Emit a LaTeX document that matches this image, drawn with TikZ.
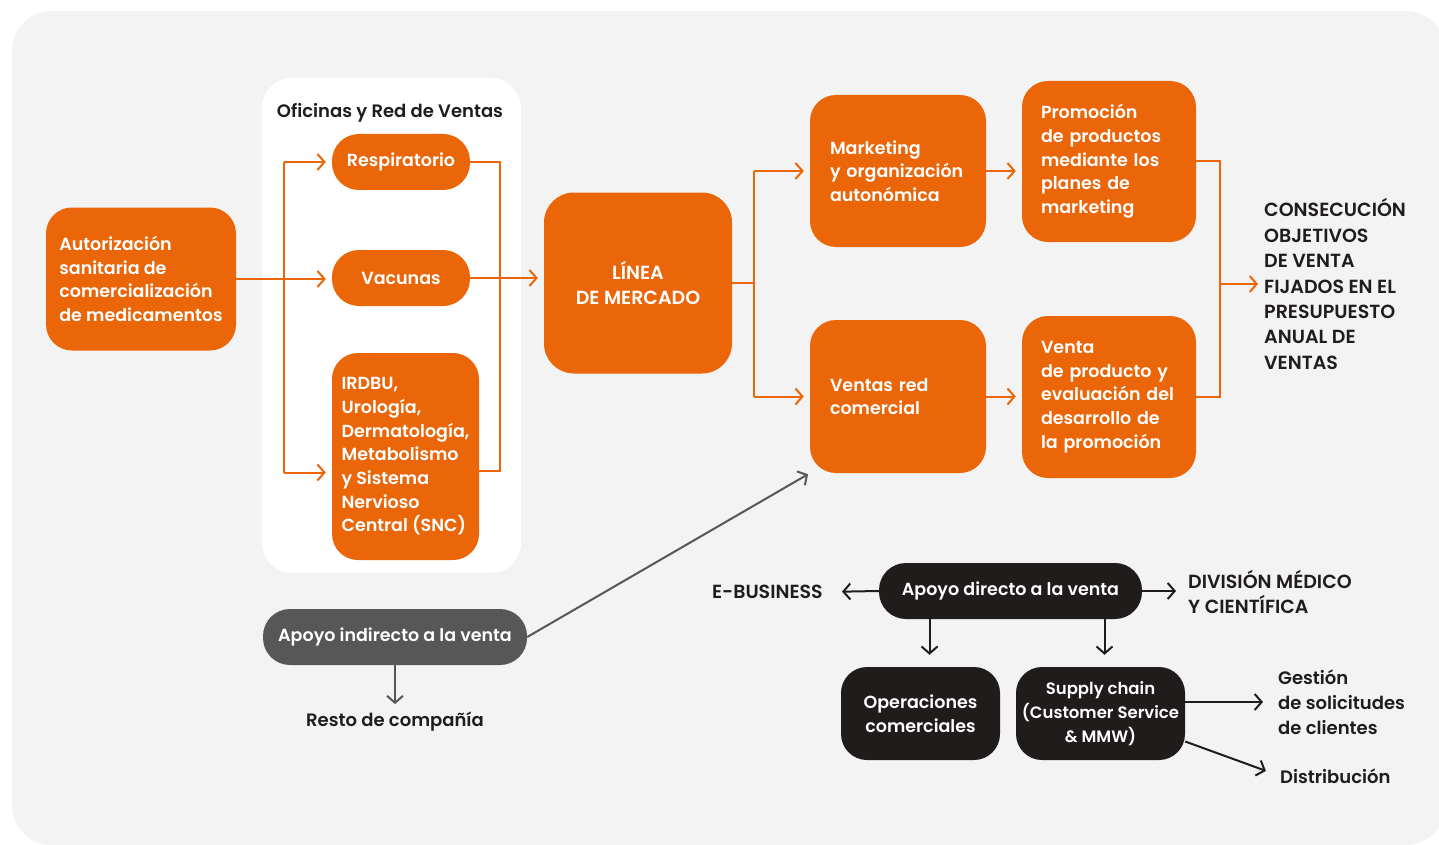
\documentclass[tikz,border=0pt]{standalone}
\usepackage{fontspec}
\setmainfont{Poppins}[UprightFont=* Medium, BoldFont=* SemiBold]
\usetikzlibrary{arrows.meta,positioning}
\definecolor{orangeC}{HTML}{EA6609}
\definecolor{panelC}{HTML}{F3F3F3}
\definecolor{inkC}{HTML}{201C1C}
\definecolor{greyC}{HTML}{575757}
\tikzset{
  box/.style={fill=orangeC, text=white, rounded corners=26pt, align=left, inner sep=0pt,
    font=\fontsize{17.5}{23.7}\selectfont\bfseries},
  pill/.style={box, rounded corners=27pt, minimum height=56pt},
  blackbox/.style={box, fill=inkC, align=center},
  caption/.style={text=inkC, align=left, inner sep=0pt, font=\fontsize{18}{25}\selectfont\bfseries},
  capsline/.style={caption, font=\fontsize{19}{25.4}\selectfont\bfseries},
  wire/.style={draw=orangeC, line width=2pt},
  link/.style={wire, -{Straight Barb[length=7pt,width=16pt]}, shorten >=6pt},
  darklink/.style={link, draw=inkC},
  greylink/.style={link, draw=greyC},
}
\begin{document}
\begin{tikzpicture}[x=1pt, y=-1pt]
  \useasboundingbox (0,0) rectangle (1439,845);
  \fill[panelC, rounded corners=40pt] (12,11) rectangle (1446,845);
  \fill[white, rounded corners=30pt] (262,78) rectangle (521,573);

  \node[caption] (oficinas) at (390,113) {Oficinas y Red de Ventas};
  \node[box, minimum width=190pt, minimum height=143pt] (auth) at (141,279)
    {Autorización\\sanitaria de\\comercialización\\de medicamentos};
  \node[pill, minimum width=138pt] (resp) at (401,162) {Respiratorio};
  \node[pill, minimum width=138pt] (vac) at (401,278) {Vacunas};
  \node[box, minimum width=147pt, minimum height=207pt] (irdbu) at (405.5,456.5)
    {IRDBU,\\Urología,\\Dermatología,\\Metabolismo\\y Sistema\\Nervioso\\Central (SNC)};
  \node[box, align=center, rounded corners=30pt, minimum width=188pt, minimum height=181pt,
    font=\fontsize{19}{25}\selectfont\bfseries] (linea) at (638,283) {LÍNEA\\DE MERCADO};
  \node[box, text width=136pt, minimum width=176pt, minimum height=152pt] (mkt) at (898,171)
    {Marketing\\y organización\\autonómica};
  \node[box, text width=136pt, minimum width=174pt, minimum height=161pt] (promo) at (1109,161.5)
    {Promoción\\de productos\\mediante los\\planes de\\marketing};
  \node[box, text width=136pt, minimum width=176pt, minimum height=153pt] (ventas) at (898,396.5)
    {Ventas red\\comercial};
  \node[box, text width=136pt, minimum width=174pt, minimum height=162pt] (venta) at (1109,397)
    {Venta\\de producto y\\evaluación del\\desarrollo de\\la promoción};
  \node[capsline, anchor=west] (consec) at (1264,284)
    {CONSECUCIÓN\\OBJETIVOS\\DE VENTA\\FIJADOS EN EL\\PRESUPUESTO\\ANUAL DE\\VENTAS};

  \node[pill, fill=inkC, minimum width=263pt] (directo) at (1010.5,591) {Apoyo directo a la venta};
  \node[capsline, anchor=east] (ebiz) at (823,592) {E-BUSINESS};
  \node[capsline, anchor=west] (division) at (1188,592) {DIVISIÓN MÉDICO\\Y CIENTÍFICA};
  \node[blackbox, minimum width=159pt, minimum height=93pt] (oper) at (920.5,713.5)
    {Operaciones\\comerciales};
  \node[blackbox, minimum width=169pt, minimum height=93pt,
    font=\fontsize{16.5}{23.7}\selectfont\bfseries] (supply) at (1100.5,713.5)
    {Supply chain\\(Customer Service\\\& MMW)};
  \node[caption, anchor=west] (gestion) at (1278,702) {Gestión\\de solicitudes\\de clientes};
  \node[caption, anchor=west] (distrib) at (1280,776) {Distribución};
  \node[pill, fill=greyC, minimum width=264pt] (indirecto) at (395,637) {Apoyo indirecto a la venta};
  \node[caption] (resto) at (395,722) {Resto de compañía};

  \coordinate (busL) at (284,0);
  \coordinate (busR) at (500,0);
  \coordinate (busM) at (754,0);
  \coordinate (busE) at (1220,0);
  \coordinate (irdbuin) at ([yshift=-16pt]irdbu.west);
  \coordinate (irdbuout) at ([yshift=-14pt]irdbu.east);

  \draw[link] (auth.east) -- (auth.east -| vac.west);
  \draw[wire] (busL |- resp) -- (busL |- irdbuin);
  \draw[link] (busL |- resp) -- (resp.west);
  \draw[link] (busL |- irdbuin) -- (irdbuin);
  \draw[wire] (resp.east) -| (busR |- irdbuout) -- (irdbuout);
  \draw[link] (vac.east) -- (vac.east -| linea.west);

  \draw[wire] (linea.east) -- (busM |- linea.east);
  \draw[wire] (busM |- mkt) -- (busM |- ventas);
  \draw[link] (busM |- mkt) -- (mkt.west);
  \draw[link] (busM |- ventas) -- (ventas.west);
  \draw[link] (mkt.east) -- (mkt.east -| promo.west);
  \draw[link] (ventas.east) -- (ventas.east -| venta.west);
  \draw[wire] (promo.east) -| (busE |- venta.east) -- (venta.east);
  \draw[link] (busE |- consec.west) -- (consec.west);

  \draw[darklink, shorten >=19pt] (directo.west) -- (ebiz.east);
  \draw[darklink, shorten >=12pt] (directo.east) -- (division.west |- directo.east);
  \draw[darklink, shorten >=12pt] ([xshift=9pt]oper.north |- directo.south) -- ([xshift=9pt]oper.north);
  \draw[darklink, shorten >=12pt] ([xshift=4pt]supply.north |- directo.south) -- ([xshift=4pt]supply.north);
  \draw[darklink, shorten >=15pt] (supply.east |- gestion.west) -- (gestion.west);
  \draw[darklink, shorten >=15pt] ([yshift=-28pt]supply.east) -- (distrib.west);

  \draw[greylink, shorten >=2pt] (indirecto.east) -- (ventas.south west);
  \draw[greylink, shorten >=8pt] (indirecto.south) -- (resto.north);
\end{tikzpicture}
\end{document}
